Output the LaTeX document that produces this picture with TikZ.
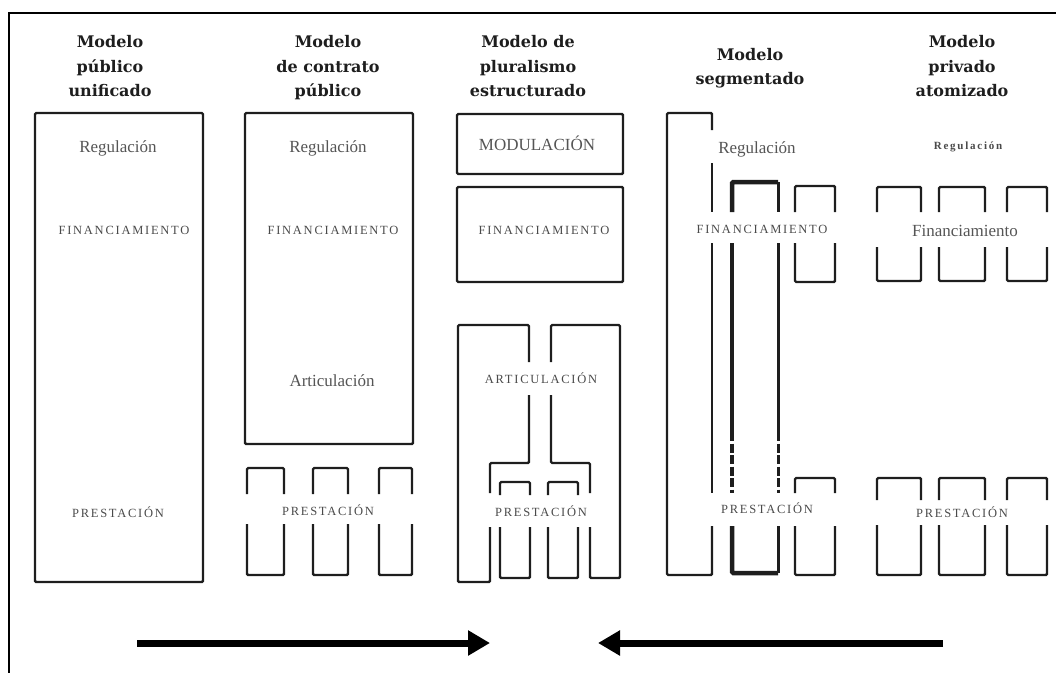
\documentclass[tikz,border=0pt]{standalone}
\usepackage{fontspec}
\setmainfont{Liberation Serif}
\newfontfamily\headfont{DejaVu Serif}
\newfontfamily\spacedfont[LetterSpace=14]{Liberation Serif}
\newfontfamily\widefont[LetterSpace=16]{Liberation Serif}
\usetikzlibrary{arrows.meta}

\definecolor{inkline}{HTML}{1E1E1E}
\definecolor{inktext}{HTML}{555555}
\definecolor{capstext}{HTML}{4A4A4A}

% a box whose two sides are interrupted between gap-top and gap-bottom
% #1 left x, #2 right x, #3 top y, #4 bottom y, #5 gap top, #6 gap bottom
\newcommand\gapbox[6]{%
  \draw[part] (#1,#5) -- (#1,#3) -- (#2,#3) -- (#2,#5);
  \draw[part] (#1,#6) -- (#1,#4) -- (#2,#4) -- (#2,#6);}

\tikzset{
  part/.style={draw=inkline, line width=2.4pt, rounded corners=1.2pt},
  heading/.style={font=\headfont\bfseries\fontsize{16}{24.5}\selectfont,
    text=inkline, align=center, inner sep=0pt, anchor=north},
  lbl/.style={font=\fontsize{17}{20}\selectfont, text=inktext, inner sep=0pt, anchor=base},
  smalllbl/.style={font=\widefont\bfseries\fontsize{11}{13}\selectfont, text=capstext, inner sep=0pt, anchor=base},
  caps/.style={font=\spacedfont\fontsize{12.5}{14}\selectfont, text=capstext, inner sep=0pt, anchor=base},
  flow/.style={draw=black, line width=7pt, -{Triangle[length=22pt,width=24pt]}},
}

\begin{document}
\begin{tikzpicture}[x=1pt,y=-1pt]
\useasboundingbox (0,0) rectangle (1056,673);

% frame
\draw[line width=2pt] (1056,13) -- (9,13) -- (9,673);

% titles
\node[heading] (t1) at (110,35.5) {Modelo\\público\\unificado};
\node[heading] (t2) at (328,35.5) {Modelo\\de contrato\\público};
\node[heading] (t3) at (528,35.5) {Modelo de\\pluralismo\\estructurado};
\node[heading] (t4) at (750,48) {Modelo\\segmentado};
\node[heading] (t5) at (962,35.5) {Modelo\\privado\\atomizado};

% unified public model
\draw[part] (35,113) rectangle (203,582);
\node[lbl]  (a1) at (118,152) {Regulación};
\node[caps] (a2) at (124,234) {FINANCIAMIENTO};
\node[caps] (a3) at (118,517) {PRESTACIÓN};

% public contract model
\draw[part] (245,113) rectangle (413,444);
\gapbox{247}{284}{468}{575}{494}{524}
\gapbox{313}{348}{468}{575}{494}{524}
\gapbox{379}{412}{468}{575}{494}{524}
\node[lbl]  (b1) at (328,152) {Regulación};
\node[caps] (b2) at (333,234) {FINANCIAMIENTO};
\node[lbl]  (b3) at (332,386) {Articulación};
\node[caps] (b4) at (328,515) {PRESTACIÓN};

% structured pluralism model
\draw[part] (457,114) rectangle (623,174);
\draw[part] (457,187) rectangle (623,282);
\draw[part] (529,362) -- (529,325) -- (458,325) -- (458,582) -- (490,582) -- (490,527);
\draw[part] (529,395) -- (529,463) -- (490,463) -- (490,493);
\draw[part] (551,362) -- (551,325) -- (620,325) -- (620,578) -- (590,578) -- (590,527);
\draw[part] (551,395) -- (551,463) -- (590,463) -- (590,493);
\gapbox{500}{530}{482}{578}{495}{527}
\gapbox{548}{578}{482}{578}{495}{527}
\node[lbl]  (c1) at (537,150) {MODULACIÓN};
\node[caps] (c2) at (544,234) {FINANCIAMIENTO};
\node[caps] (c3) at (541,383) {ARTICULACIÓN};
\node[caps] (c4) at (541,516) {PRESTACIÓN};

% segmented model
\draw[part] (712,130) -- (712,113) -- (667,113) -- (667,575) -- (712,575) -- (712,526);
\draw[part] (712,163) -- (712,212);
\draw[part] (712,243) -- (712,493);
\draw[part, line width=4.5pt] (732,212) -- (732,182) -- (778,182);
\draw[part, line width=3pt] (778,182) -- (778,212);
\draw[part, line width=4.5pt] (732,243) -- (732,432);
\draw[draw=inkline, line width=4.5pt, dash pattern=on 9pt off 2.5pt] (732,432) -- (732,493);
\draw[part, line width=3pt] (778,243) -- (778,432);
\draw[draw=inkline, line width=3pt, dash pattern=on 9pt off 2.5pt] (778,432) -- (778,493);
\draw[part, line width=4.5pt] (732,526) -- (732,573) -- (778,573);
\draw[part, line width=3pt] (778,573) -- (778,526);
\gapbox{795}{835}{186}{282}{212}{243}
\gapbox{795}{835}{478}{575}{493}{526}
\node[lbl]  (d1) at (757,153) {Regulación};
\node[caps] (d2) at (762,233) {FINANCIAMIENTO};
\node[caps] (d3) at (767,513) {PRESTACIÓN};

% atomized private model
\gapbox{877}{921}{187}{281}{212}{247}
\gapbox{939}{985}{187}{281}{212}{247}
\gapbox{1007}{1047}{187}{281}{212}{247}
\gapbox{877}{921}{478}{575}{500}{525}
\gapbox{939}{985}{478}{575}{500}{525}
\gapbox{1007}{1047}{478}{575}{500}{525}
\node[smalllbl] (e1) at (968,149) {Regulación};
\node[lbl]      (e2) at (965,236) {Financiamiento};
\node[caps]     (e3) at (962,517) {PRESTACIÓN};

% convergence arrows
\coordinate (r0) at (137,643);
\coordinate (r1) at (490,643);
\coordinate (l0) at (943,643);
\coordinate (l1) at (598,643);
\draw[flow] (r0) -- (r1);
\draw[flow] (l0) -- (l1);
\end{tikzpicture}
\end{document}
